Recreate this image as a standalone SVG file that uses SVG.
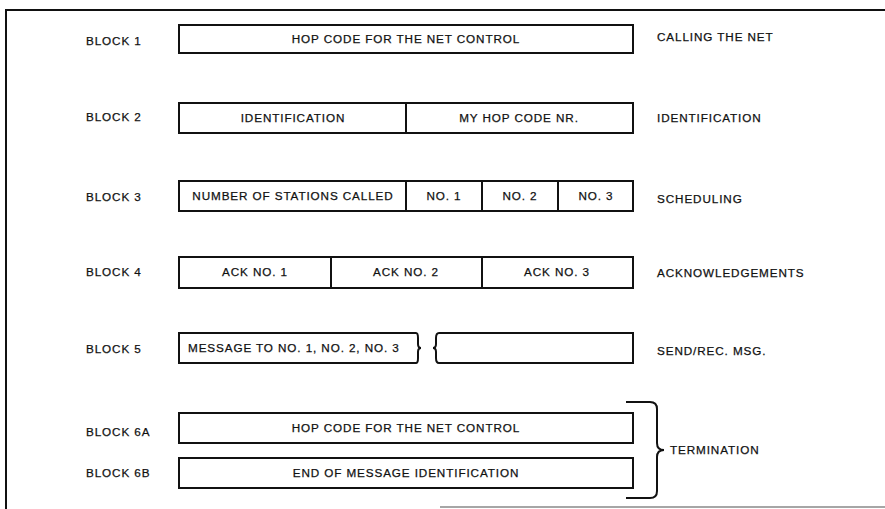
<svg xmlns="http://www.w3.org/2000/svg" width="885" height="509" viewBox="0 0 885 509">
<style>
text{font-family:"Liberation Sans",Arial,sans-serif;font-size:11.7px;letter-spacing:0.9px;fill:#111;stroke:#111;stroke-width:0.25}
.c{text-anchor:middle}
.box{fill:#fff;stroke:#111;stroke-width:2}
.ln{fill:none;stroke:#111;stroke-width:2}
</style>
<rect width="885" height="509" fill="#fff"/>
<g id="frame">
<path class="ln" d="M6 509 L6 10 L885 10"/>
<path d="M440 507 L885 507" stroke="#888" stroke-width="1.5" fill="none"/>
</g>
<g id="block1">
<text x="86" y="45">BLOCK 1</text>
<rect class="box" x="179" y="25" width="454" height="28"/>
<text class="c" x="406" y="43">HOP CODE FOR THE NET CONTROL</text>
<text x="657" y="41">CALLING THE NET</text>
</g>
<g id="block2">
<text x="86" y="121">BLOCK 2</text>
<rect class="box" x="179" y="103" width="454" height="30"/>
<path class="ln" d="M406 103 V133"/>
<text class="c" x="293" y="122">IDENTIFICATION</text>
<text class="c" x="519" y="122">MY HOP CODE NR.</text>
<text x="657" y="122">IDENTIFICATION</text>
</g>
<g id="block3">
<text x="86" y="201">BLOCK 3</text>
<rect class="box" x="179" y="181" width="454" height="30"/>
<path class="ln" d="M406 181 V211 M482 181 V211 M558 181 V211"/>
<text class="c" x="293" y="200">NUMBER OF STATIONS CALLED</text>
<text class="c" x="444" y="200">NO. 1</text>
<text class="c" x="520" y="200">NO. 2</text>
<text class="c" x="596" y="200">NO. 3</text>
<text x="657" y="203">SCHEDULING</text>
</g>
<g id="block4">
<text x="86" y="276">BLOCK 4</text>
<rect class="box" x="179" y="257" width="454" height="31"/>
<path class="ln" d="M331 257 V288 M482 257 V288"/>
<text class="c" x="255" y="276">ACK NO. 1</text>
<text class="c" x="406" y="276">ACK NO. 2</text>
<text class="c" x="557" y="276">ACK NO. 3</text>
<text x="657" y="277">ACKNOWLEDGEMENTS</text>
</g>
<g id="block5">
<text x="86" y="353">BLOCK 5</text>
<path class="box" d="M179 333 L416 333 Q418 333 418 338 L418 344 Q418 348 421 348 Q418 348 418 352 L418 358 Q418 363 416 363 L179 363 Z"/>
<path class="box" d="M439 333 L633 333 L633 363 L439 363 Q436 363 436 358 L436 352 Q436 348 433 348 Q436 348 436 344 L436 338 Q436 333 439 333 Z"/>
<text x="188" y="352">MESSAGE TO NO. 1, NO. 2, NO. 3</text>
<text x="657" y="355">SEND/REC. MSG.</text>
</g>
<g id="block6a">
<text x="86" y="436">BLOCK 6A</text>
<rect class="box" x="179" y="413" width="454" height="30"/>
<text class="c" x="406" y="432">HOP CODE FOR THE NET CONTROL</text>
</g>
<g id="block6b">
<text x="86" y="477">BLOCK 6B</text>
<rect class="box" x="179" y="458" width="454" height="30"/>
<text class="c" x="406" y="477">END OF MESSAGE IDENTIFICATION</text>
</g>
<g id="termination">
<path class="ln" d="M626 402 L650 402 Q657 402 657 409 L657 443 Q657 450 664 450 Q657 450 657 457 L657 491 Q657 498 650 498 L626 498"/>
<text x="670" y="454">TERMINATION</text>
</g>
</svg>
